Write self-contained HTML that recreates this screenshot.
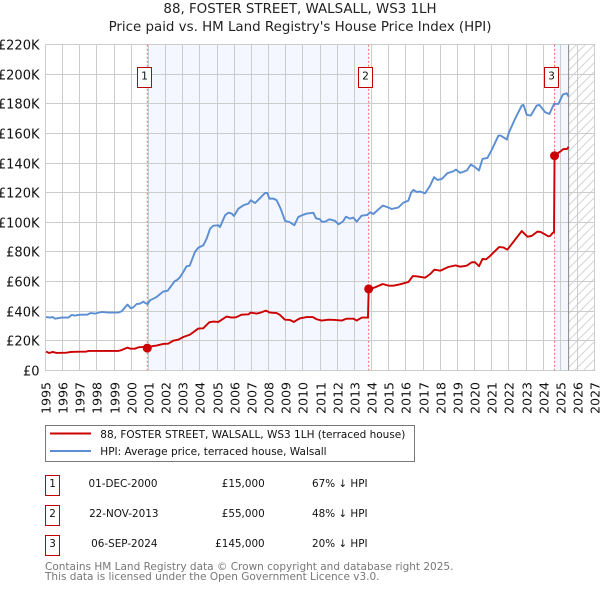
<!DOCTYPE html>
<html lang="en">
<head>
<meta charset="utf-8">
<title>88, Foster Street, Walsall price chart</title>
<style>
html,body{margin:0;padding:0;background:#fff;}
body{width:600px;height:590px;overflow:hidden;}
svg{display:block;font-family:"DejaVu Sans","Liberation Sans",sans-serif;}
</style>
</head>
<body>
<svg id="chart" width="600" height="590" viewBox="0 0 600 590" xmlns="http://www.w3.org/2000/svg">
  <defs>
    <pattern id="hatch" patternUnits="userSpaceOnUse" width="9" height="9">
      <path d="M-1 10 L10 -1 M-1 1 L1 -1 M8 10 L10 8" stroke="#d4d4d4" stroke-width="1" fill="none"/>
    </pattern>
  </defs>
  <text x="300" y="13" text-anchor="middle" font-size="13.4" fill="#222">88, FOSTER STREET, WALSALL, WS3 1LH</text>
  <text x="300" y="31" text-anchor="middle" font-size="13.4" fill="#222">Price paid vs. HM Land Registry's House Price Index (HPI)</text>
  <g id="plot"></g>

  <g>
    <rect x="45.5" y="425.5" width="369" height="36" fill="#fff" stroke="#777" stroke-width="1"/>
    <line x1="50" x2="91" y1="433.5" y2="433.5" stroke="#cc0000" stroke-width="2"/>
    <text x="100.3" y="438" font-size="10.5" fill="#111">88, FOSTER STREET, WALSALL, WS3 1LH (terraced house)</text>
    <line x1="50" x2="91" y1="451" y2="451" stroke="#5b8ed2" stroke-width="2"/>
    <text x="100.3" y="455" font-size="10.5" fill="#111">HPI: Average price, terraced house, Walsall</text>
  </g>

  <g font-size="10.4" fill="#111">
    <g>
      <rect x="45.5" y="475.5" width="14" height="20" fill="#fff" stroke="#c00000"/>
      <text x="52.5" y="487" text-anchor="middle">1</text>
      <text x="157.5" y="487" text-anchor="end">01-DEC-2000</text>
      <text x="264.7" y="487" text-anchor="end">£15,000</text>
      <text x="312" y="487">67% ↓ HPI</text>
    </g>
    <g>
      <rect x="45.5" y="505.5" width="14" height="20" fill="#fff" stroke="#c00000"/>
      <text x="52.5" y="517" text-anchor="middle">2</text>
      <text x="158.5" y="517" text-anchor="end">22-NOV-2013</text>
      <text x="264.7" y="517" text-anchor="end">£55,000</text>
      <text x="312" y="517">48% ↓ HPI</text>
    </g>
    <g>
      <rect x="45.5" y="535.5" width="14" height="20" fill="#fff" stroke="#c00000"/>
      <text x="52.5" y="547" text-anchor="middle">3</text>
      <text x="157.5" y="547" text-anchor="end">06-SEP-2024</text>
      <text x="264.7" y="547" text-anchor="end">£145,000</text>
      <text x="312" y="547">20% ↓ HPI</text>
    </g>
  </g>

  <text x="45" y="570" font-size="10.5" fill="#777">Contains HM Land Registry data © Crown copyright and database right 2025.</text>
  <text x="45" y="580" font-size="10.5" fill="#777">This data is licensed under the Open Government Licence v3.0.</text>
</svg>
<script>
const yTickValues = [0,20,40,60,80,100,120,140,160,180,200,220];
const xTickYears = [1995,1996,1997,1998,1999,2000,2001,2002,2003,2004,2005,2006,2007,2008,2009,2010,2011,2012,2013,2014,2015,2016,2017,2018,2019,2020,2021,2022,2023,2024,2025,2026,2027];
const saleYears = [2000.93,2013.83,2024.66];
const salePrices = [15,55,145];
const saleLabels = ['1','2','3'];
const dataEndYear = 2025.48;

const hpiYears = [1995.03,1995.26,1995.42,1995.55,1995.94,1996.33,1996.52,1996.72,1997.01,1997.44,1997.63,1997.88,1998.27,1998.66,1999.24,1999.44,1999.77,1999.98,2000.12,2000.31,2000.5,2000.7,2000.83,2000.95,2001.09,2001.47,2001.86,2002.12,2002.54,2002.64,2002.83,2003.03,2003.22,2003.4,2003.71,2003.91,2004.2,2004.39,2004.59,2004.78,2005.07,2005.17,2005.46,2005.65,2005.85,2005.98,2006.24,2006.53,2006.82,2006.96,2007.21,2007.5,2007.79,2007.93,2008.04,2008.28,2008.47,2008.7,2008.96,2009.21,2009.5,2009.73,2009.93,2010.22,2010.61,2010.76,2011,2011.09,2011.29,2011.54,2011.87,2012.07,2012.32,2012.51,2012.74,2012.94,2013.13,2013.42,2013.75,2013.91,2014.1,2014.65,2014.98,2015.17,2015.56,2015.85,2016.14,2016.3,2016.44,2016.63,2016.82,2017.12,2017.41,2017.64,2017.84,2018.09,2018.42,2018.77,2018.92,2019.16,2019.55,2019.78,2020.03,2020.26,2020.46,2020.75,2021,2021.39,2021.52,2021.88,2022.01,2022.36,2022.75,2022.85,2023.04,2023.27,2023.62,2023.78,2024.11,2024.36,2024.63,2024.89,2025.14,2025.37,2025.48];
const hpiValues = [36,35.6,36,34.9,35.6,35.6,37.4,37,37.6,37.6,38.7,38.3,39.4,39,39,39.9,44.4,41.9,42.6,44.8,45,46.4,45.3,44.8,47.3,49.5,53.2,53.8,60.4,60.8,62.8,66.4,70.3,70.7,80,82.9,84.5,89,95.7,97.7,98,96.8,104.7,106.5,105.9,104.3,109.2,111.5,112.6,114.9,113,116.4,119.8,119.8,116,116,114.9,109.2,100.9,100.2,98,103.6,104.7,105.9,106.4,102.7,102,100.4,100.4,102,101,98.6,100.4,103.8,102.5,103.2,100.4,104.5,105,106.8,105.6,111.3,110,109,110,113.3,114.6,120,121.9,120.5,120.8,119.6,124.8,130.5,128.6,129.3,133.2,134.5,135.6,133.4,135,139,137.2,135,142.8,143.5,148.9,158.6,158.6,155.9,160.9,169.9,178.9,179.3,172.6,172.1,178.9,179.3,174.4,173.2,180,180,186.3,187.2,185];

const priceYears = [1995.03,1995.22,1995.42,1995.65,1996.23,1996.47,1997.01,1997.36,1997.5,1999.24,1999.44,1999.77,1999.96,2000.21,2000.41,2000.7,2000.85,2000.93,2001.18,2001.47,2001.86,2002.15,2002.44,2002.73,2003.03,2003.42,2003.9,2004.19,2004.54,2004.78,2005.07,2005.55,2005.84,2006.1,2006.43,2006.82,2006.95,2007.3,2007.59,2007.84,2008.08,2008.47,2008.66,2008.95,2009.24,2009.47,2009.73,2009.83,2010.22,2010.57,2010.8,2011.09,2011.48,2011.87,2012.26,2012.55,2012.94,2013.13,2013.43,2013.79,2013.83,2014.2,2014.65,2014.98,2015.27,2015.66,2016.15,2016.4,2016.63,2017.12,2017.41,2017.66,2018,2018.47,2018.9,2019.16,2019.54,2019.84,2020.03,2020.26,2020.46,2020.67,2020.86,2021.43,2021.68,2021.91,2022.75,2023.08,2023.33,2023.66,2023.85,2024.3,2024.4,2024.56,2024.63,2024.66,2024.98,2025.18,2025.38,2025.48];
const priceValues = [12.6,11.7,12.4,11.7,11.9,12.4,12.6,12.6,13.1,13.1,13.7,15.3,14.6,14.6,15.5,15.8,15.9,15,16.2,16.7,17.8,18,20,20.7,22.5,24.1,28.2,28.4,32.4,32.9,32.7,36.3,35.6,35.8,37.6,37.8,39,38.3,39.2,40.3,39,38.7,37.4,34.2,34,32.7,34.5,35.1,36,36,34.5,33.6,34.2,34,33.6,34.9,34.9,33.6,35.6,35.6,55,56,58.3,57.2,57.2,58.1,59.7,63.7,63.5,62.6,65,68,67.3,69.8,70.9,70,70.7,73,73,70.3,75.2,75,76.8,83.3,83,81.5,94.1,90.3,90.8,93.7,93.5,90.5,90.7,93,93.2,145,147.7,149.5,149.5,151];

const SVGNS = 'http://www.w3.org/2000/svg';
const plot = document.getElementById('plot');
const plotLeft = 45.5, plotRight = 594.7, plotBottom = 370.3, plotTop = 44.7;
const xMin = 1995, xMax = 2027, yMax = 220;
function xOf(year){ return plotLeft + (year - xMin) * (plotRight - plotLeft) / (xMax - xMin); }
function yOf(k){ return plotBottom - k * (plotBottom - plotTop) / yMax; }
function snap(v){ return Math.floor(v) + 0.5; }
function make(tag, attrs, parent){
  const el = document.createElementNS(SVGNS, tag);
  for (const k in attrs) el.setAttribute(k, attrs[k]);
  (parent || plot).appendChild(el);
  return el;
}
function pathFrom(xs, ys){
  return xs.map((v, i) => (i ? 'L' : 'M') + xOf(v).toFixed(2) + ' ' + yOf(ys[i]).toFixed(2)).join(' ');
}

/* shaded bands between sales */
const bandA = make('rect', {x: xOf(saleYears[0]), y: plotTop, width: xOf(saleYears[1]) - xOf(saleYears[0]), height: plotBottom - plotTop, fill: '#f4f7ff'});


const bandB = make('rect', {x: xOf(saleYears[2]), y: plotTop, width: xOf(dataEndYear) - xOf(saleYears[2]), height: plotBottom - plotTop, fill: '#f4f7ff'});


const hatchArea = make('rect', {x: xOf(dataEndYear), y: plotTop, width: plotRight - xOf(dataEndYear), height: plotBottom - plotTop, fill: 'url(#hatch)'});



/* grid and ticks */
yTickValues.forEach(v => {
  const y = snap(yOf(v));
  const line = make('line', {x1: plotLeft, x2: plotRight + 0.5, y1: y, y2: y, stroke: '#cccccc', 'stroke-width': 1});
  
  
  const label = make('text', {x: 39.5, y: y + 5, 'text-anchor': 'end', 'font-size': 13, fill: '#111'});
  label.textContent = '£' + (v === 0 ? '0' : v + 'K');
  
  
});
xTickYears.forEach(v => {
  const x = snap(xOf(v));
  const line = make('line', {x1: x, x2: x, y1: plotTop - 0.2, y2: plotBottom + 0.7, stroke: '#cccccc', 'stroke-width': 1});
  
  
  const label = make('text', {transform: 'translate(' + (x + 4.8) + ',382) rotate(-90)', 'text-anchor': 'end', 'font-size': 12.5, fill: '#111'});
  label.textContent = String(v);
  
  
});

/* data end marker */
const endLine = make('line', {x1: xOf(dataEndYear), x2: xOf(dataEndYear), y1: plotTop, y2: plotBottom, stroke: '#888888', 'stroke-width': 1});



/* sale reference lines */
saleYears.forEach(v => {
  const line = make('line', {x1: xOf(v), x2: xOf(v), y1: plotTop, y2: plotBottom, stroke: '#f26b6b', 'stroke-width': 1, 'stroke-dasharray': '2 2'});
  
  
});

/* series */
const hpiLine = make('path', {d: pathFrom(hpiYears, hpiValues), fill: 'none', stroke: '#5b8ed2', 'stroke-width': 1.9, 'stroke-linejoin': 'round'});


const priceLine = make('path', {d: pathFrom(priceYears, priceValues), fill: 'none', stroke: '#cc0000', 'stroke-width': 1.9, 'stroke-linejoin': 'round'});



/* sale markers and numbered flags */
saleYears.forEach((v, i) => {
  const dot = make('circle', {cx: xOf(v), cy: yOf(salePrices[i]), r: 4.5, fill: '#cc0000'});
  
  
  const flag = make('rect', {x: snap(xOf(v) - 10), y: 67.5, width: 14, height: 20, fill: '#fff', stroke: '#c00000', 'stroke-width': 1});
  
  
  const flagText = make('text', {x: snap(xOf(v) - 10) + 7, y: 79.5, 'text-anchor': 'middle', 'font-size': 10.7, fill: '#111'});
  flagText.textContent = saleLabels[i];
  
  
});
</script>
</body>
</html>
